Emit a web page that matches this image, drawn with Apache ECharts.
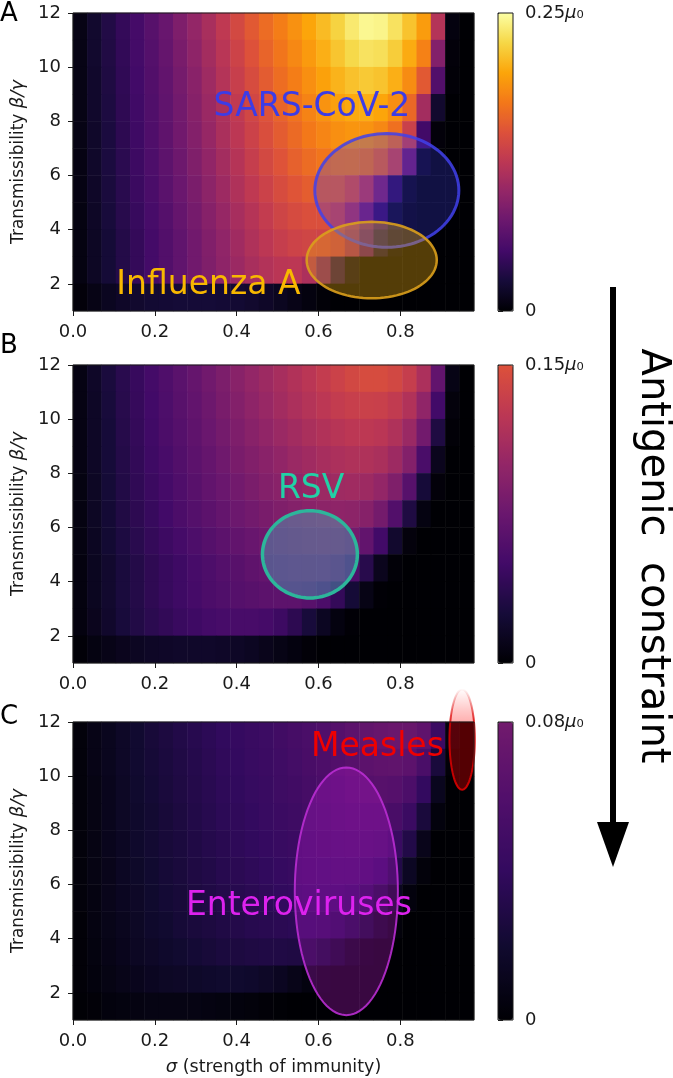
<!DOCTYPE html>
<html>
<head>
<meta charset="utf-8">
<script src="https://cdn.jsdelivr.net/npm/echarts@6/dist/echarts.min.js"></script>
<style>
  html, body { margin: 0; padding: 0; background: #fff; }
  #chart { width: 673px; height: 1078px; }
</style>
</head>
<body>
<div id="chart"></div>
<script>
// sigma cell centres (x) and beta/gamma cell centres (y)
const SIGMA = [0.0175, 0.0525, 0.0875, 0.1225, 0.1575, 0.1925, 0.2275, 0.2625, 0.2975, 0.3325,
  0.3675, 0.4025, 0.4375, 0.4725, 0.5075, 0.5425, 0.5775, 0.6125, 0.6475, 0.6825,
  0.7175, 0.7525, 0.7875, 0.8225, 0.8575, 0.8925, 0.9275, 0.9625];
const BETA = [1.5, 2.5, 3.5, 4.5, 5.5, 6.5, 7.5, 8.5, 9.5, 10.5, 11.5];

// fields in units of mu0, rows from beta 11.5 (top) down to 1.5
const FIELD_A = [
  [0.008,0.02,0.032,0.042,0.052,0.063,0.074,0.087,0.1,0.113, 0.127,0.142,0.155,0.167,0.178,0.189,0.2,0.211,0.223,0.236, 0.245,0.243,0.232,0.215,0.195,0.12,0.005,0],
  [0.008,0.02,0.031,0.041,0.051,0.061,0.072,0.084,0.097,0.11, 0.123,0.137,0.15,0.162,0.173,0.184,0.194,0.205,0.216,0.226, 0.232,0.23,0.22,0.203,0.18,0.09,0.003,0],
  [0.008,0.019,0.03,0.04,0.05,0.06,0.07,0.082,0.094,0.107, 0.12,0.133,0.145,0.157,0.168,0.178,0.188,0.198,0.207,0.214, 0.218,0.215,0.205,0.186,0.155,0.06,0.002,0],
  [0.008,0.019,0.029,0.039,0.049,0.059,0.069,0.08,0.092,0.104, 0.116,0.128,0.14,0.151,0.162,0.172,0.181,0.19,0.197,0.202, 0.204,0.2,0.188,0.165,0.11,0.02,0,0],
  [0.008,0.018,0.028,0.038,0.048,0.058,0.068,0.079,0.09,0.102, 0.114,0.125,0.136,0.147,0.157,0.166,0.175,0.182,0.188,0.191, 0.19,0.184,0.17,0.135,0.05,0.003,0,0],
  [0.007,0.018,0.028,0.037,0.047,0.057,0.067,0.077,0.088,0.099, 0.11,0.121,0.132,0.142,0.151,0.16,0.167,0.173,0.177,0.178, 0.174,0.163,0.14,0.08,0.01,0,0,0],
  [0.007,0.017,0.027,0.036,0.046,0.055,0.065,0.075,0.085,0.096, 0.106,0.117,0.127,0.136,0.145,0.152,0.158,0.161,0.16,0.15, 0.128,0.09,0.04,0.008,0,0,0,0],
  [0.006,0.016,0.026,0.035,0.044,0.053,0.062,0.072,0.082,0.092, 0.102,0.112,0.121,0.13,0.138,0.144,0.148,0.148,0.14,0.118, 0.085,0.045,0.015,0.003,0,0,0,0],
  [0.006,0.015,0.024,0.033,0.042,0.051,0.06,0.069,0.079,0.089, 0.098,0.108,0.117,0.125,0.132,0.137,0.139,0.137,0.128,0.105, 0.065,0.025,0.005,0,0,0,0,0],
  [0.006,0.015,0.024,0.033,0.042,0.051,0.06,0.069,0.079,0.088, 0.097,0.105,0.113,0.119,0.124,0.125,0.115,0.08,0.035,0.01, 0,0,0,0,0,0,0,0],
  [0.003,0.008,0.013,0.017,0.02,0.022,0.023,0.024,0.024,0.024, 0.023,0.022,0.02,0.017,0.013,0.009,0.005,0.002,0,0, 0,0,0,0,0,0,0,0]
];
const FIELD_B = [
  [0.007,0.017,0.027,0.036,0.044,0.051,0.058,0.065,0.072,0.079, 0.086,0.093,0.1,0.106,0.112,0.118,0.124,0.13,0.136,0.141, 0.145,0.145,0.141,0.132,0.115,0.07,0.008,0],
  [0.007,0.016,0.026,0.035,0.043,0.05,0.057,0.064,0.07,0.077, 0.084,0.09,0.097,0.103,0.109,0.115,0.12,0.125,0.13,0.133, 0.135,0.134,0.129,0.118,0.098,0.05,0.004,0],
  [0.007,0.016,0.025,0.034,0.042,0.049,0.056,0.062,0.068,0.075, 0.081,0.087,0.093,0.099,0.104,0.109,0.114,0.118,0.122,0.125, 0.126,0.124,0.117,0.104,0.08,0.03,0.002,0],
  [0.007,0.016,0.025,0.033,0.041,0.048,0.054,0.06,0.066,0.072, 0.078,0.084,0.089,0.094,0.099,0.104,0.108,0.112,0.115,0.117, 0.117,0.114,0.106,0.09,0.055,0.012,0,0],
  [0.006,0.015,0.024,0.032,0.04,0.046,0.052,0.058,0.064,0.07, 0.075,0.08,0.085,0.09,0.094,0.098,0.102,0.105,0.107,0.108, 0.106,0.1,0.088,0.063,0.025,0.003,0,0],
  [0.006,0.015,0.023,0.031,0.038,0.044,0.05,0.056,0.061,0.066, 0.071,0.076,0.08,0.084,0.088,0.091,0.094,0.096,0.097,0.096, 0.092,0.081,0.06,0.03,0.006,0,0,0],
  [0.006,0.014,0.022,0.029,0.036,0.042,0.047,0.052,0.057,0.062, 0.066,0.07,0.074,0.078,0.081,0.084,0.086,0.087,0.086,0.081, 0.07,0.05,0.02,0.004,0,0,0,0],
  [0.005,0.013,0.02,0.027,0.033,0.039,0.044,0.048,0.053,0.057, 0.061,0.064,0.068,0.071,0.074,0.076,0.077,0.076,0.071,0.058, 0.035,0.012,0.002,0,0,0,0,0],
  [0.005,0.013,0.02,0.027,0.033,0.039,0.044,0.048,0.052,0.056, 0.059,0.062,0.064,0.066,0.067,0.067,0.064,0.056,0.042,0.024, 0.008,0.001,0,0,0,0,0,0],
  [0.005,0.012,0.019,0.026,0.032,0.037,0.041,0.045,0.048,0.051, 0.053,0.054,0.054,0.052,0.047,0.038,0.026,0.014,0.005,0.001, 0,0,0,0,0,0,0,0],
  [0.002,0.006,0.009,0.012,0.014,0.016,0.017,0.018,0.018,0.018, 0.017,0.016,0.014,0.011,0.008,0.005,0.002,0,0,0, 0,0,0,0,0,0,0,0]
];
const FIELD_C = [
  [0.003,0.008,0.012,0.016,0.02,0.024,0.027,0.03,0.033,0.036, 0.039,0.041,0.044,0.046,0.049,0.052,0.055,0.058,0.062,0.066, 0.07,0.073,0.075,0.074,0.068,0.045,0.005,0],
  [0.003,0.008,0.012,0.016,0.02,0.023,0.026,0.029,0.032,0.035, 0.038,0.04,0.043,0.045,0.048,0.051,0.054,0.057,0.06,0.063, 0.066,0.068,0.069,0.066,0.055,0.025,0.002,0],
  [0.003,0.007,0.011,0.015,0.019,0.022,0.025,0.028,0.031,0.034, 0.037,0.039,0.042,0.044,0.047,0.049,0.052,0.055,0.057,0.06, 0.062,0.063,0.062,0.056,0.04,0.012,0,0],
  [0.003,0.007,0.011,0.015,0.018,0.021,0.024,0.027,0.03,0.033, 0.036,0.038,0.04,0.043,0.045,0.047,0.05,0.052,0.054,0.056, 0.057,0.057,0.054,0.045,0.025,0.004,0,0],
  [0.003,0.007,0.011,0.014,0.018,0.021,0.024,0.026,0.029,0.032, 0.034,0.037,0.039,0.041,0.043,0.045,0.047,0.049,0.051,0.052, 0.052,0.05,0.044,0.03,0.01,0,0,0],
  [0.003,0.007,0.01,0.014,0.017,0.02,0.023,0.025,0.028,0.03, 0.033,0.035,0.037,0.039,0.041,0.043,0.045,0.046,0.047,0.047, 0.045,0.04,0.03,0.014,0.003,0,0,0],
  [0.003,0.006,0.01,0.013,0.016,0.019,0.022,0.024,0.027,0.029, 0.031,0.033,0.035,0.037,0.039,0.04,0.041,0.042,0.041,0.039, 0.034,0.025,0.013,0.004,0,0,0,0],
  [0.002,0.006,0.009,0.012,0.015,0.018,0.02,0.023,0.025,0.027, 0.029,0.031,0.033,0.034,0.035,0.036,0.036,0.035,0.032,0.026, 0.018,0.009,0.003,0,0,0,0,0],
  [0.002,0.005,0.008,0.011,0.014,0.016,0.018,0.02,0.022,0.024, 0.026,0.027,0.028,0.029,0.029,0.028,0.025,0.02,0.013,0.006, 0.002,0,0,0,0,0,0,0],
  [0.002,0.004,0.007,0.009,0.011,0.013,0.015,0.016,0.017,0.018, 0.019,0.019,0.018,0.016,0.013,0.009,0.005,0.002,0,0, 0,0,0,0,0,0,0,0],
  [0.001,0.002,0.004,0.005,0.006,0.007,0.007,0.007,0.007,0.006, 0.005,0.004,0.003,0.002,0.001,0,0,0,0,0, 0,0,0,0,0,0,0,0]
];

// colour bar tops (mu0)
const CBAR_MAX = [0.25, 0.15, 0.08];
const X_TICKS = [0, 0.2, 0.4, 0.6, 0.8];
const Y_TICKS = [2, 4, 6, 8, 10, 12];

// pathogen regions: [sigma centre, beta centre, sigma radius, beta radius]
const ELLIPSE_A = [[0.767, 5.45, 0.176, 2.10], [0.730, 2.88, 0.159, 1.41]];
const ELLIPSE_B = [[0.579, 5.01, 0.116, 1.61]];
const ELLIPSE_C = [[0.668, 5.75, 0.126, 4.57], [0.951, 11.35, 0.031, 1.85]];
const NAMES_A = ['SARS-CoV-2', 'Influenza A'];
const NAMES_B = ['RSV'];
const NAMES_C = ['Enteroviruses', 'Measles'];
// where the names are written, in data units
const LABEL_AT = {
  'SARS-CoV-2': [0.584, 8.53],
  'Influenza A': [0.331, 1.96],
  'RSV': [0.582, 7.39],
  'Measles': [0.744, 11.06],
  'Enteroviruses': [0.552, 5.18]
};

const INFERNO = ['#000004', '#160b39', '#420a68', '#6a176e', '#932667', '#bc3754',
  '#dd513a', '#f37819', '#fca50a', '#f6d746', '#fcffa4'];
const CMAPS = [INFERNO, INFERNO.slice(0, 7), ['#000004', '#110a30', '#330a5f', '#520f6b', '#721a6d']];

const FONT = 'DejaVu Sans';
const INK = '#1a1a1a';
const PLOT_LEFT = 73, PLOT_W = 401, PLOT_H = 298;
const CBAR_LEFT = 498, CBAR_W = 15;
const PANEL_TOPS = [13, 365, 722];

const measlesFill = new echarts.graphic.LinearGradient(0, 0, 0, 1, [
  { offset: 0, color: 'rgba(255,0,0,0)' },
  { offset: 0.22, color: 'rgba(255,0,0,0.22)' },
  { offset: 0.35, color: 'rgba(255,0,0,0.33)' },
  { offset: 1, color: 'rgba(255,0,0,0.33)' }
]);
const measlesStroke = new echarts.graphic.LinearGradient(0, 0, 0, 1, [
  { offset: 0, color: 'rgba(220,0,0,0)' },
  { offset: 0.3, color: 'rgba(220,0,0,0.8)' },
  { offset: 1, color: 'rgba(220,0,0,0.9)' }
]);
const REGION_STYLE = {
  'SARS-CoV-2': { fill: 'rgba(60,60,235,0.28)', stroke: 'rgba(65,65,235,0.85)', width: 3, text: '#3c3ce6' },
  'Influenza A': { fill: 'rgba(232,168,18,0.36)', stroke: 'rgba(218,158,28,0.9)', width: 2.5, text: '#f8b800' },
  'RSV': { fill: 'rgba(80,150,175,0.5)', stroke: '#2db69b', width: 3.5, text: '#22d1a6' },
  'Enteroviruses': { fill: 'rgba(190,25,210,0.3)', stroke: 'rgba(185,45,210,0.9)', width: 2, text: '#dd22ee' },
  'Measles': { fill: measlesFill, stroke: measlesStroke, width: 2, text: '#f00000' }
};

const panels = [
  { field: FIELD_A, ell: ELLIPSE_A, names: NAMES_A },
  { field: FIELD_B, ell: ELLIPSE_B, names: NAMES_B },
  { field: FIELD_C, ell: ELLIPSE_C, names: NAMES_C }
];

const grid = [], xAxis = [], yAxis = [], visualMap = [];
const heatSeries = [], regionSeries = [], labelSeries = [];
const tickStyle = { show: true, length: 5, lineStyle: { color: INK, width: 1 } };
const labelStyle = { color: INK, fontFamily: FONT, fontSize: 18, margin: 12 };
const italic = { fontStyle: 'italic', fontFamily: FONT, fontSize: 18, color: INK };

panels.forEach((p, i) => {
  const top = PANEL_TOPS[i];
  const max = CBAR_MAX[i];
  grid.push({ left: PLOT_LEFT, top: top, width: PLOT_W, height: PLOT_H, show: true,
    backgroundColor: 'transparent', borderColor: INK, borderWidth: 1, z: 10 });
  grid.push({ left: CBAR_LEFT, top: top, width: CBAR_W, height: PLOT_H, show: true,
    backgroundColor: 'transparent', borderColor: INK, borderWidth: 1, z: 10 });

  // heatmap axes (hidden) + visible value axes
  xAxis.push({ type: 'category', gridIndex: 2 * i, data: SIGMA, show: false });
  xAxis.push({
    type: 'value', gridIndex: 2 * i, min: 0, max: 0.98, position: 'bottom',
    axisLine: { show: false }, splitLine: { show: false },
    axisTick: Object.assign({ customValues: X_TICKS }, tickStyle),
    axisLabel: Object.assign({ customValues: X_TICKS, formatter: v => v.toFixed(1) }, labelStyle),
    name: i === 2 ? '{i|σ} (strength of immunity)' : '',
    nameLocation: 'middle', nameGap: 38,
    nameTextStyle: { color: INK, fontFamily: FONT, fontSize: 17.5, rich: { i: italic } }
  });
  xAxis.push({ type: 'value', gridIndex: 2 * i + 1, show: false, min: 0, max: 1 });

  yAxis.push({ type: 'category', gridIndex: 2 * i, data: BETA, show: false });
  yAxis.push({
    type: 'value', gridIndex: 2 * i, min: 1, max: 12, position: 'left',
    axisLine: { show: false }, splitLine: { show: false },
    axisTick: Object.assign({ customValues: Y_TICKS }, tickStyle),
    axisLabel: Object.assign({ customValues: Y_TICKS }, labelStyle),
    name: 'Transmissibility {i|β/γ}', nameLocation: 'middle', nameGap: 44, nameRotate: 90,
    nameTextStyle: { color: INK, fontFamily: FONT, fontSize: 17, rich: { i: italic } }
  });
  yAxis.push({
    type: 'value', gridIndex: 2 * i + 1, min: 0, max: max, position: 'right',
    axisLine: { show: false }, splitLine: { show: false },
    axisTick: Object.assign({ customValues: [0, max] }, tickStyle),
    axisLabel: Object.assign({}, labelStyle, {
      customValues: [0, max],
      formatter: v => (v === 0 ? '0' : max.toFixed(2) + '{i|μ}₀'),
      rich: { i: italic }
    })
  });

  const data = [];
  p.field.forEach((row, r) => {
    row.forEach((v, k) => data.push([k, BETA.length - 1 - r, v]));
  });
  heatSeries.push({
    type: 'heatmap', xAxisIndex: 3 * i, yAxisIndex: 3 * i, data: data,
    silent: true, emphasis: { disabled: true }, itemStyle: { borderWidth: 0 }, z: 2
  });
  visualMap.push({
    type: 'continuous', seriesIndex: i, min: 0, max: max,
    inRange: { color: CMAPS[i] }, calculable: false, hoverLink: false,
    left: CBAR_LEFT, top: top, itemWidth: CBAR_W, itemHeight: PLOT_H,
    padding: 0, text: null, showLabel: false, orient: 'vertical'
  });

  const names = p.names;
  regionSeries.push({
    type: 'custom', xAxisIndex: 3 * i + 1, yAxisIndex: 3 * i + 1, clip: false, silent: true, z: 3,
    data: p.ell,
    renderItem: (params, api) => {
      const cx = api.value(0), cy = api.value(1), rx = api.value(2), ry = api.value(3);
      const pts = [];
      for (let k = 0; k < 96; k++) {
        const t = 2 * Math.PI * k / 96;
        pts.push(api.coord([cx + rx * Math.cos(t), cy + ry * Math.sin(t)]));
      }
      const st = REGION_STYLE[names[params.dataIndex]];
      return { type: 'polygon', shape: { points: pts },
        style: { fill: st.fill, stroke: st.stroke, lineWidth: st.width } };
    }
  });
  labelSeries.push({
    type: 'custom', xAxisIndex: 3 * i + 1, yAxisIndex: 3 * i + 1, clip: false, silent: true, z: 4,
    data: names.map(n => LABEL_AT[n]),
    renderItem: (params, api) => {
      const pt = api.coord([api.value(0), api.value(1)]);
      const n = names[params.dataIndex];
      return { type: 'text', x: pt[0], y: pt[1],
        style: { text: n, fill: REGION_STYLE[n].text, fontFamily: FONT, fontSize: 33,
          align: 'center', verticalAlign: 'middle' } };
    }
  });
});

const graphic = [
  { type: 'text', left: 0, top: 1, style: { text: 'A', fill: '#000', font: '26px "DejaVu Sans"' } },
  { type: 'text', left: 0, top: 333, style: { text: 'B', fill: '#000', font: '26px "DejaVu Sans"' } },
  { type: 'text', left: 0, top: 704, style: { text: 'C', fill: '#000', font: '26px "DejaVu Sans"' } },
  { type: 'line', shape: { x1: 613, y1: 287, x2: 613, y2: 830 }, style: { stroke: '#000', lineWidth: 6 } },
  { type: 'polygon', shape: { points: [[597, 822], [629, 822], [613, 867]] }, style: { fill: '#000' } },
  { type: 'text', x: 652, y: 556, rotation: -Math.PI / 2,
    style: { text: 'Antigenic  constraint', fill: '#000', font: '40px "DejaVu Sans"',
      align: 'center', verticalAlign: 'middle' } }
];

const chart = echarts.init(document.getElementById('chart'));
chart.setOption({
  animation: false,
  backgroundColor: '#fff',
  grid: grid,
  xAxis: xAxis,
  yAxis: yAxis,
  visualMap: visualMap,
  series: heatSeries.concat(regionSeries, labelSeries),
  graphic: graphic
});
</script>
</body>
</html>
